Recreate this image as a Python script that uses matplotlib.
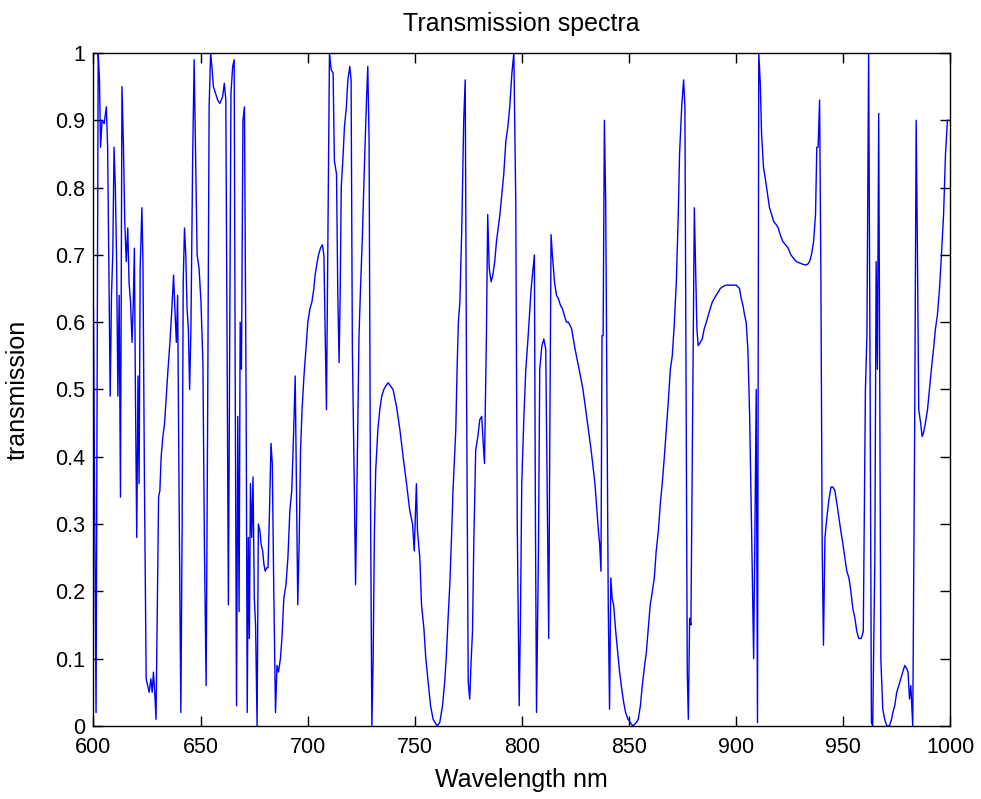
import matplotlib
matplotlib.use("Agg")
import matplotlib.pyplot as plt

wavelength = [
    600.0, 600.6, 601.2, 602.2, 602.8, 603.3, 604.0, 605.0, 606.0, 606.6,
    607.3, 607.8, 608.4, 609.0, 609.6, 610.2, 610.8, 611.4, 612.0, 612.6,
    613.3, 614.0, 614.6, 615.3, 616.0, 616.6, 617.3, 618.0, 618.6, 619.1,
    619.6, 620.2, 620.8, 621.3, 621.8, 622.6, 623.1, 623.8, 624.6, 625.3,
    626.0, 626.8, 627.4, 628.0, 628.6, 629.2, 629.8, 630.4, 631.0, 631.6,
    632.4, 633.2, 634.0, 634.8, 635.7, 636.6, 637.4, 638.0, 638.7, 639.3,
    640.0, 640.8, 641.4, 641.9, 642.5, 643.1, 643.7, 644.3, 644.9, 645.5,
    646.3, 647.0, 647.7, 648.4, 649.3, 650.2, 651.1, 651.8, 652.6, 653.3,
    654.0, 654.7, 655.3, 656.0, 657.0, 658.0, 659.0, 660.3, 661.1, 661.8,
    662.4, 663.0, 663.6, 664.2, 665.0, 665.7, 666.2, 666.8, 667.4, 668.0,
    668.5, 669.1, 669.8, 670.5, 671.3, 671.8, 672.3, 672.8, 673.3, 673.9,
    674.5, 675.1, 675.7, 676.4, 677.0, 677.7, 678.3, 679.0, 679.6, 680.2,
    680.9, 681.5, 682.2, 682.9, 683.5, 684.2, 685.0, 685.7, 686.4, 687.3,
    688.0, 688.9, 689.9, 690.8, 691.7, 692.6, 693.5, 694.2, 694.8, 695.4,
    696.1, 696.7, 697.4, 698.3, 699.2, 700.1, 701.1, 702.0, 702.9, 703.5,
    704.5, 705.1, 706.0, 706.9, 707.6, 708.2, 708.8, 709.5, 710.2, 711.0,
    711.9, 712.5, 713.5, 714.1, 714.7, 715.2, 715.7, 716.6, 717.2, 718.1,
    718.8, 719.7, 720.3, 720.9, 721.7, 722.4, 723.2, 724.0, 724.7, 725.6,
    726.5, 727.5, 728.1, 728.7, 729.3, 730.0, 730.6, 731.2, 731.8, 732.8,
    733.7, 734.6, 735.6, 736.5, 737.6, 739.9, 741.5, 743.1, 744.6, 746.2,
    747.7, 749.0, 749.8, 750.3, 750.8, 751.3, 752.4, 753.2, 754.3, 755.2,
    756.3, 757.4, 758.6, 760.5, 761.7, 763.0, 764.0, 764.8, 765.6, 766.4,
    767.2, 767.9, 769.2, 769.8, 770.4, 771.1, 772.0, 772.9, 773.6, 774.2,
    775.0, 775.7, 776.4, 777.0, 777.6, 778.5, 779.5, 780.4, 781.3, 782.0,
    782.6, 783.5, 784.1, 784.8, 785.7, 786.5, 787.4, 788.2, 789.8, 791.6,
    792.6, 793.5, 794.4, 795.4, 796.3, 797.2, 797.9, 798.8, 799.4, 800.0,
    801.0, 801.9, 802.8, 803.8, 804.4, 805.3, 805.9, 806.4, 806.9, 807.8,
    808.4, 809.4, 810.3, 811.2, 811.9, 812.6, 813.1, 813.7, 814.3, 815.3,
    816.2, 817.1, 818.1, 819.0, 819.9, 820.9, 821.8, 823.3, 824.9, 826.8,
    828.6, 830.5, 832.4, 834.2, 835.8, 836.4, 837.0, 837.5, 838.0, 838.6,
    839.2, 839.8, 840.4, 841.0, 841.6, 842.2, 842.9, 843.9, 844.8, 845.7,
    846.7, 847.6, 848.5, 849.6, 850.7, 851.9, 853.5, 854.4, 855.4, 856.3,
    857.2, 858.2, 859.1, 860.0, 861.0, 861.9, 862.8, 863.8, 864.7, 865.6,
    866.6, 867.5, 868.4, 869.4, 870.3, 871.2, 872.2, 873.1, 873.7, 874.7,
    875.6, 876.2, 876.7, 877.3, 877.8, 878.4, 879.0, 880.0, 880.6, 881.2,
    881.8, 882.4, 883.4, 884.3, 885.2, 886.2, 887.1, 888.0, 889.0, 889.9,
    890.8, 891.8, 892.7, 894.0, 895.5, 897.1, 898.6, 900.2, 901.7, 902.5,
    903.3, 904.1, 904.8, 905.6, 906.4, 907.3, 908.3, 908.9, 909.5, 910.1,
    910.7, 911.4, 912.0, 912.9, 913.9, 914.8, 915.7, 916.7, 917.6, 918.8,
    919.8, 920.7, 921.9, 923.2, 924.4, 925.7, 926.9, 928.2, 929.7, 931.3,
    932.5, 933.5, 934.4, 935.3, 936.3, 937.2, 937.8, 938.4, 939.1, 939.7,
    940.3, 940.9, 941.6, 942.5, 943.4, 944.4, 945.3, 946.2, 947.2, 948.1,
    949.0, 950.0, 950.9, 951.8, 952.8, 953.7, 954.6, 955.6, 956.5, 957.4,
    958.5, 959.5, 960.5, 961.2, 962.0, 962.7, 963.3, 963.9, 964.9, 965.5,
    966.1, 966.7, 967.7, 968.6, 969.5, 970.5, 971.7, 972.7, 973.3, 974.2,
    975.1, 976.1, 977.0, 977.9, 978.9, 979.8, 980.4, 981.1, 981.7, 982.6,
    983.5, 984.2, 984.8, 985.4, 986.3, 987.0, 987.6, 988.5, 989.5, 990.4,
    991.3, 992.3, 993.2, 994.1, 995.1, 996.0, 997.0, 997.9, 998.8, 999.4,
]

transmission = [
    0.62, 0.30, 0.02, 1.00, 0.96, 0.86, 0.90, 0.895, 0.92, 0.86,
    0.64, 0.49, 0.64, 0.70, 0.86, 0.80, 0.69, 0.49, 0.64, 0.34,
    0.95, 0.86, 0.75, 0.69, 0.74, 0.66, 0.63, 0.57, 0.63, 0.71,
    0.49, 0.28, 0.52, 0.36, 0.68, 0.77, 0.69, 0.36, 0.07, 0.06,
    0.05, 0.07, 0.05, 0.08, 0.05, 0.01, 0.18, 0.34, 0.35, 0.40,
    0.43, 0.45, 0.49, 0.53, 0.57, 0.62, 0.67, 0.62, 0.57, 0.64,
    0.33, 0.02, 0.30, 0.66, 0.74, 0.70, 0.62, 0.59, 0.50, 0.59,
    0.84, 0.99, 0.84, 0.70, 0.68, 0.63, 0.54, 0.27, 0.06, 0.45,
    0.92, 1.00, 0.98, 0.95, 0.94, 0.93, 0.925, 0.935, 0.955, 0.93,
    0.56, 0.18, 0.56, 0.94, 0.98, 0.99, 0.50, 0.03, 0.46, 0.17,
    0.60, 0.53, 0.90, 0.92, 0.47, 0.02, 0.28, 0.13, 0.36, 0.28,
    0.37, 0.19, 0.15, 0.00, 0.30, 0.29, 0.27, 0.26, 0.24, 0.23,
    0.235, 0.235, 0.32, 0.42, 0.39, 0.20, 0.02, 0.09, 0.08, 0.10,
    0.13, 0.19, 0.21, 0.25, 0.32, 0.35, 0.44, 0.52, 0.35, 0.18,
    0.28, 0.41, 0.47, 0.52, 0.56, 0.60, 0.62, 0.63, 0.65, 0.67,
    0.69, 0.70, 0.71, 0.715, 0.70, 0.58, 0.47, 0.73, 1.00, 0.975,
    0.97, 0.84, 0.82, 0.64, 0.54, 0.64, 0.80, 0.85, 0.89, 0.92,
    0.96, 0.98, 0.96, 0.56, 0.38, 0.21, 0.39, 0.58, 0.65, 0.73,
    0.83, 0.93, 0.98, 0.87, 0.38, 0.00, 0.10, 0.29, 0.38, 0.44,
    0.47, 0.49, 0.50, 0.505, 0.51, 0.50, 0.475, 0.44, 0.40, 0.36,
    0.32, 0.30, 0.26, 0.31, 0.36, 0.29, 0.25, 0.18, 0.145, 0.10,
    0.065, 0.03, 0.01, 0.00, 0.005, 0.03, 0.065, 0.105, 0.16, 0.21,
    0.28, 0.35, 0.44, 0.53, 0.60, 0.63, 0.74, 0.90, 0.96, 0.52,
    0.065, 0.04, 0.10, 0.14, 0.27, 0.41, 0.43, 0.455, 0.46, 0.42,
    0.39, 0.58, 0.76, 0.68, 0.66, 0.67, 0.69, 0.72, 0.76, 0.82,
    0.87, 0.89, 0.92, 0.97, 1.00, 0.78, 0.30, 0.03, 0.16, 0.36,
    0.46, 0.53, 0.57, 0.62, 0.65, 0.68, 0.70, 0.30, 0.02, 0.26,
    0.53, 0.565, 0.575, 0.56, 0.34, 0.13, 0.43, 0.73, 0.70, 0.66,
    0.64, 0.635, 0.625, 0.62, 0.61, 0.60, 0.60, 0.59, 0.56, 0.53,
    0.50, 0.455, 0.41, 0.36, 0.29, 0.27, 0.23, 0.58, 0.58, 0.90,
    0.78, 0.485, 0.18, 0.025, 0.22, 0.19, 0.18, 0.14, 0.11, 0.08,
    0.055, 0.035, 0.02, 0.01, 0.005, 0.00, 0.005, 0.01, 0.03, 0.06,
    0.085, 0.11, 0.145, 0.18, 0.20, 0.22, 0.26, 0.29, 0.33, 0.36,
    0.40, 0.44, 0.48, 0.53, 0.55, 0.595, 0.66, 0.76, 0.85, 0.92,
    0.96, 0.92, 0.55, 0.08, 0.01, 0.16, 0.15, 0.53, 0.77, 0.68,
    0.59, 0.565, 0.57, 0.575, 0.59, 0.60, 0.61, 0.62, 0.63, 0.635,
    0.64, 0.645, 0.65, 0.653, 0.655, 0.655, 0.655, 0.655, 0.65, 0.635,
    0.625, 0.61, 0.60, 0.56, 0.465, 0.30, 0.10, 0.29, 0.50, 0.005,
    1.00, 0.955, 0.88, 0.83, 0.81, 0.79, 0.77, 0.76, 0.75, 0.745,
    0.74, 0.73, 0.72, 0.715, 0.71, 0.70, 0.695, 0.69, 0.688, 0.686,
    0.685, 0.686, 0.69, 0.70, 0.72, 0.76, 0.86, 0.86, 0.93, 0.67,
    0.27, 0.12, 0.28, 0.31, 0.335, 0.355, 0.355, 0.35, 0.33, 0.31,
    0.29, 0.27, 0.25, 0.23, 0.22, 0.20, 0.175, 0.16, 0.14, 0.13,
    0.13, 0.14, 0.50, 0.58, 1.00, 0.50, 0.005, 0.00, 0.25, 0.69,
    0.53, 0.91, 0.10, 0.025, 0.01, 0.00, 0.00, 0.01, 0.02, 0.03,
    0.05, 0.06, 0.07, 0.08, 0.09, 0.085, 0.08, 0.04, 0.06, 0.00,
    0.445, 0.90, 0.70, 0.47, 0.45, 0.43, 0.435, 0.45, 0.47, 0.50,
    0.53, 0.56, 0.59, 0.61, 0.65, 0.70, 0.76, 0.85, 0.90, 0.90,
]

x_ticks = [600, 650, 700, 750, 800, 850, 900, 950, 1000]
y_ticks = [0, 0.1, 0.2, 0.3, 0.4, 0.5, 0.6, 0.7, 0.8, 0.9, 1]
y_tick_labels = ["0", "0.1", "0.2", "0.3", "0.4", "0.5", "0.6", "0.7", "0.8", "0.9", "1"]

plt.rcParams['font.family'] = ['Liberation Sans', 'DejaVu Sans']

fig = plt.figure(figsize=(9.81, 7.99), dpi=100, facecolor='white')
ax = fig.add_axes([0.0953, 0.0914, 0.8731, 0.8423])
ax.plot(wavelength, transmission, color='#0000ff', linewidth=1.0)
ax.set_xlim(600, 1000)
ax.set_ylim(0, 1)
ax.set_xticks(x_ticks)
ax.set_xticklabels([str(t) for t in x_ticks])
ax.set_yticks(y_ticks)
ax.set_yticklabels(y_tick_labels)
ax.tick_params(direction='in', length=7, width=1.0, top=True, right=True,
               labelsize=15.5)
ax.tick_params(axis='x', pad=8)
ax.tick_params(axis='y', pad=6)
for s in ax.spines.values():
    s.set_linewidth(1.0)
ax.set_title('Transmission spectra', fontsize=18, pad=16)
ax.set_xlabel('Wavelength nm', fontsize=18)
ax.set_ylabel('transmission', fontsize=18)
ax.xaxis.set_label_coords(0.5, -0.062)
ax.yaxis.set_label_coords(-0.074, 0.5)
fig.savefig('out.png', dpi=100, facecolor='white')
